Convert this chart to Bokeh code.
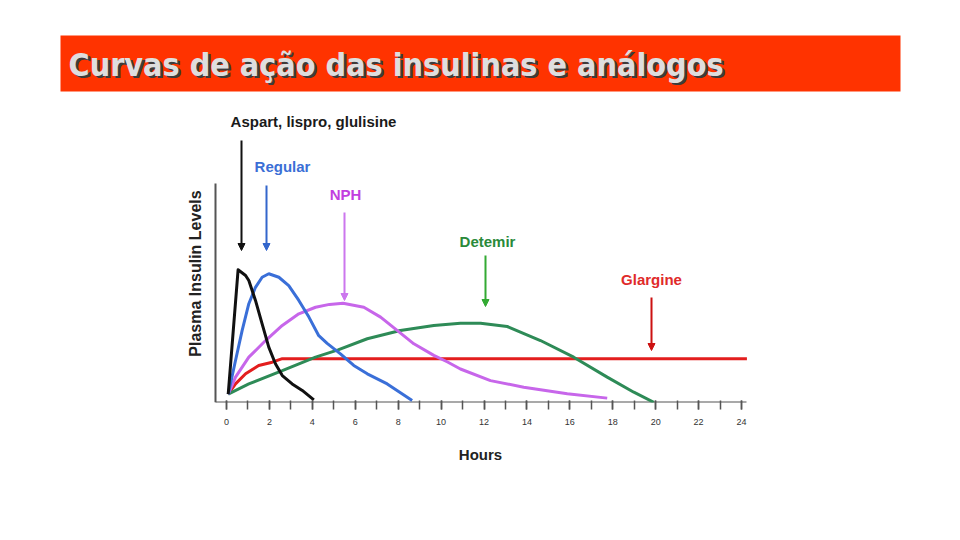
from bokeh.plotting import figure
from bokeh.models import Range1d, FixedTicker, Label, Arrow, NormalHead
from bokeh.core.properties import value
from bokeh.embed import file_html
from bokeh.resources import INLINE
import math

# ---------------- data (hours, relative plasma level 0-100) ----------------
aspart_h = [0.08, 0.54, 0.89, 1.04, 1.35, 1.66, 1.97, 2.28, 2.6, 3.06, 3.53, 4.07]
aspart_y = [3.8, 60.6, 58.0, 55.7, 46.6, 35.9, 25.3, 17.7, 12.3, 8.5, 5.5, 1.2]

regular_h = [0.08, 0.42, 0.73, 1.04, 1.35, 1.66, 1.97, 2.44, 2.9, 3.37, 3.84, 4.3,
             4.69, 5.31, 5.93, 6.56, 7.49, 8.65]
regular_y = [3.8, 19.2, 32.9, 45.1, 52.6, 57.2, 58.8, 57.2, 53.4, 46.6, 39.0, 30.5,
             27.0, 22.2, 16.9, 13.1, 8.5, 0.9]

nph_h = [0.08, 0.42, 1.04, 1.82, 2.6, 3.37, 4.15, 4.8, 5.43, 6.4, 7.18, 7.95, 8.73,
         9.66, 10.3, 10.9, 12.3, 13.85, 15.88, 17.74]
nph_y = [3.8, 11.6, 20.7, 28.3, 35.2, 40.5, 43.5, 44.8, 45.3, 43.5, 39.0, 32.9, 26.8,
         21.5, 18.5, 15.3, 10.0, 7.0, 4.0, 2.0]

detemir_h = [0.08, 1.04, 2.6, 4.15, 5.2, 6.56, 8.1, 9.66, 10.9, 11.84, 13.08, 14.63,
             16.18, 17.74, 18.98, 19.91]
detemir_y = [3.8, 8.5, 14.6, 20.7, 24.0, 29.1, 32.9, 35.2, 36.2, 36.2, 34.7, 28.3,
             20.7, 11.6, 4.7, 0.1]

glargine_h = [0.08, 0.42, 0.89, 1.5, 2.13, 2.6, 24.25]
glargine_y = [3.8, 8.5, 13.1, 16.9, 18.4, 20.0, 20.0]

label_ticks = list(range(0, 25, 2))
hour_ticks = list(range(0, 25))

# ---------------- page geometry (pixels) ----------------
W, H = 960, 540
ZERO_PX = 226.0                   # page x of hour 0
PX_PER_H = 529.0 / 24.65          # pixels per hour
AXIS_LEFT_PX, AXIS_RIGHT_PX = 215, 746
AXIS_TOP, FB = 183, 402           # y-axis top / x-axis (page px)
YTOP_VAL = 100.0

def hx(px):
    return (px - ZERO_PX) / PX_PER_H
def vy(py):
    return (FB - py) * YTOP_VAL / (FB - AXIS_TOP)

p = figure(width=W, height=H, output_backend="svg", toolbar_location=None,
           x_range=Range1d(hx(0), hx(W)), y_range=Range1d(0, vy(0)),
           min_border_left=0, min_border_right=0, min_border_top=0,
           min_border_bottom=H - FB)
p.outline_line_color = None
p.grid.visible = False
p.background_fill_color = "white"
p.border_fill_color = "white"
p.yaxis.visible = False

# x axis (ticks every hour, labels every 2 h)
xa = p.xaxis[0]
xa.ticker = FixedTicker(ticks=label_ticks, minor_ticks=hour_ticks)
for pre in ("major", "minor"):
    setattr(xa, pre + "_tick_in", 2)
    setattr(xa, pre + "_tick_out", 7)
    setattr(xa, pre + "_tick_line_color", "#555555")
    setattr(xa, pre + "_tick_line_width", 1.5)
xa.axis_line_color = None
xa.major_label_text_font = "Liberation Sans"
xa.major_label_text_font_size = "9px"
xa.major_label_text_color = "#333333"
xa.major_label_standoff = 9
xa.axis_label = "Hours"
xa.axis_label_text_font = "Liberation Sans"
xa.axis_label_text_font_style = "bold"
xa.axis_label_text_font_size = "15px"
xa.axis_label_text_color = "#222222"
xa.axis_label_standoff = 18

# axis lines
p.segment(x0=[hx(AXIS_LEFT_PX)], y0=[0], x1=[hx(AXIS_RIGHT_PX)], y1=[0],
          line_color="#555555", line_width=2)
p.segment(x0=[hx(AXIS_LEFT_PX)], y0=[0], x1=[hx(AXIS_LEFT_PX)], y1=[YTOP_VAL],
          line_color="#555555", line_width=2)

# y title
p.text(x=[hx(195)], y=[vy(273)], text=["Plasma Insulin Levels"], angle=math.pi / 2,
       text_align="center", text_baseline="middle", text_font=value("Liberation Sans"),
       text_font_style="bold", text_font_size="16px", text_color="#222222")

# curves
p.line(glargine_h, glargine_y, line_color="#e31e1e", line_width=3)
p.line(detemir_h, detemir_y, line_color="#2e8b57", line_width=3)
p.line(nph_h, nph_y, line_color="#c766ea", line_width=3)
p.line(regular_h, regular_y, line_color="#3a6fd8", line_width=3)
p.line(aspart_h, aspart_y, line_color="#111111", line_width=3, line_join="round")

# annotations: (text, text px x, text px y, color, arrow px x, arrow top py, arrow bottom py, arrow color)
notes = [
    ("Aspart, lispro, glulisine", 313, 121, "#1a1a1a", 241, 140, 250, "#111111"),
    ("Regular", 282, 166, "#3b6fd6", 266, 185, 250, "#3366cc"),
    ("NPH", 345, 194, "#c23ee0", 344, 212, 300, "#cc77ee"),
    ("Detemir", 487, 241, "#2a8a3a", 485, 255, 306, "#33aa33"),
    ("Glargine", 651, 279, "#e02a2a", 651, 297, 350, "#cc1111"),
]
for txt, tx, ty, tc, ax, at, ab, ac in notes:
    p.add_layout(Label(x=hx(tx), y=vy(ty), text=txt, text_align="center",
                       text_baseline="middle", text_font="Liberation Sans",
                       text_font_style="bold", text_font_size="15px", text_color=tc))
    p.add_layout(Arrow(x_start=hx(ax), y_start=vy(at), x_end=hx(ax), y_end=vy(ab),
                       line_color=ac, line_width=2,
                       end=NormalHead(size=7, fill_color=ac, line_color=ac)))

# title banner
p.quad(left=[hx(60)], right=[hx(900)], top=[vy(35)], bottom=[vy(91)],
       fill_color="#ff3300", line_color=None)
title = "Curvas de ação das insulinas e análogos"
p.text(x=[hx(68) + 2.5 / PX_PER_H], y=[vy(64 + 2.5)], text=[title], text_align="left",
       text_baseline="middle", text_font=value("DejaVu Sans Condensed"),
       text_font_style="bold", text_font_size="32px", text_color="#3c3c3c")
p.text(x=[hx(68)], y=[vy(64)], text=[title], text_align="left", text_baseline="middle",
       text_font=value("DejaVu Sans Condensed"), text_font_style="bold",
       text_font_size="32px", text_color="#dedede")

open("out.html", "w").write(file_html(p, INLINE))
